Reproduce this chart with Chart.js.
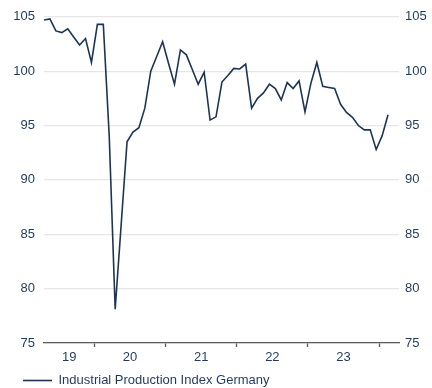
<!DOCTYPE html>
<html>
<head>
<meta charset="utf-8">
<script src="https://cdn.jsdelivr.net/npm/chart.js@4"></script>
<style>
  html, body { margin: 0; padding: 0; background: #fff; }
  #wrap { width: 432px; height: 388px; }
</style>
</head>
<body>
<div id="wrap"><canvas id="ipChart"></canvas></div>
<script>
// Data - monthly, Apr 2019 to Feb 2024

const months = [
  '2019-04', '2019-05', '2019-06', '2019-07', '2019-08', '2019-09', '2019-10', '2019-11', '2019-12',
  '2020-01', '2020-02', '2020-03', '2020-04', '2020-05', '2020-06', '2020-07', '2020-08', '2020-09', '2020-10', '2020-11', '2020-12',
  '2021-01', '2021-02', '2021-03', '2021-04', '2021-05', '2021-06', '2021-07', '2021-08', '2021-09', '2021-10', '2021-11', '2021-12',
  '2022-01', '2022-02', '2022-03', '2022-04', '2022-05', '2022-06', '2022-07', '2022-08', '2022-09', '2022-10', '2022-11', '2022-12',
  '2023-01', '2023-02', '2023-03', '2023-04', '2023-05', '2023-06', '2023-07', '2023-08', '2023-09', '2023-10', '2023-11', '2023-12',
  '2024-01', '2024-02',
];

const ipIndex = [
  104.7, 104.8, 103.7, 103.55, 103.9, 103.15, 102.4, 103.0, 100.8,
  104.3, 104.3, 94.0, 78.1, 85.8, 93.5, 94.4, 94.8, 96.6, 100.0, 101.35, 102.7,
  100.7, 98.8, 101.95, 101.5, 100.15, 98.8, 99.9, 95.5, 95.8, 99.0, 99.6, 100.25,
  100.2, 100.65, 96.6, 97.5, 98.0, 98.8, 98.4, 97.35, 98.95, 98.4, 99.1, 96.25,
  98.9, 100.8, 98.6, 98.5, 98.4, 96.95, 96.2, 95.75, 95.0, 94.6, 94.6, 92.8,
  94.05, 96.0,
];

const yearLabels = ['19', '20', '21', '22', '23'];

const seriesName = 'Industrial Production Index Germany';

// Styles

const navy = '#1c3556';
const textColor = '#1f3a5c';
const gridColor = '#e6e6e6';
const axisColor = '#5a5a5a';

Chart.defaults.font.family = '"Liberation Sans", Arial, sans-serif';
Chart.defaults.font.size = 13;
Chart.defaults.color = textColor;

// x axis runs a bit past the last month
const xMin = 0;
const xMax = 59.85;

// year boundaries sit half a month before each January
const yearStarts = [];
months.forEach((m, i) => {
  if (m.endsWith('-01')) yearStarts.push(i - 0.5);
});

const bounds = [xMin, ...yearStarts, xMax];

const labelAt = {};
yearLabels.forEach((label, k) => {
  labelAt[(bounds[k] + bounds[k + 1]) / 2] = label;
});

const xTickValues = yearStarts.concat(Object.keys(labelAt).map(Number)).sort((a, b) => a - b);

const points = ipIndex.map((v, i) => ({ x: i, y: v }));

const ipChart = new Chart(document.getElementById('ipChart'), {
  type: 'line',
  data: {
    datasets: [{
      label: seriesName,
      data: points,
      borderColor: navy,
      backgroundColor: navy,
      borderWidth: 1.6,
      pointRadius: 0,
      tension: 0,
      yAxisID: 'yLeft',
    }]
  },

  options: {
    responsive: true,
    maintainAspectRatio: false,
    animation: false,
    layout: {
      padding: { top: 12.5, left: 13, right: 5, bottom: -9 }
    },
    plugins: {
      tooltip: { enabled: false },
      legend: {
        position: 'bottom',
        align: 'start',
        labels: {
          usePointStyle: true,
          pointStyle: 'line',
          pointStyleWidth: 29,
          color: textColor,
          font: { size: 13 },
          padding: 10,
        }
      }
    },
    scales: {
      x: {
        type: 'linear',
        min: xMin,
        max: xMax,
        afterBuildTicks: axis => {
          axis.ticks = xTickValues.map(v => ({ value: v }));
        },
        afterFit: axis => {
          axis.paddingLeft = 0;
          axis.paddingRight = 0;
          axis.height = 21;
        },
        ticks: {
          autoSkip: false,
          maxRotation: 0,
          padding: 3,
          color: textColor,
          callback: value => labelAt[value] || '',
        },
        grid: {
          drawOnChartArea: false,
          tickLength: 4,
          tickWidth: 1.3,
          tickColor: ctx => (ctx.tick && labelAt[ctx.tick.value]) ? 'rgba(0,0,0,0)' : axisColor,
        },
        border: { display: true, color: axisColor, width: 1.3 },
      },
      yLeft: {
        position: 'left',
        min: 75,
        max: 105,
        afterFit: axis => { axis.width = 31; },
        ticks: { stepSize: 5, padding: 9, color: textColor },
        grid: { color: gridColor, lineWidth: 1.3, drawTicks: false },
        border: { display: false },
      },
      yRight: {
        position: 'right',
        min: 75,
        max: 105,
        afterFit: axis => { axis.width = 28; },
        ticks: { stepSize: 5, padding: 6, color: textColor },
        grid: { drawOnChartArea: false, drawTicks: false },
        border: { display: false },
      },
    }
  }
});
</script>
</body>
</html>
